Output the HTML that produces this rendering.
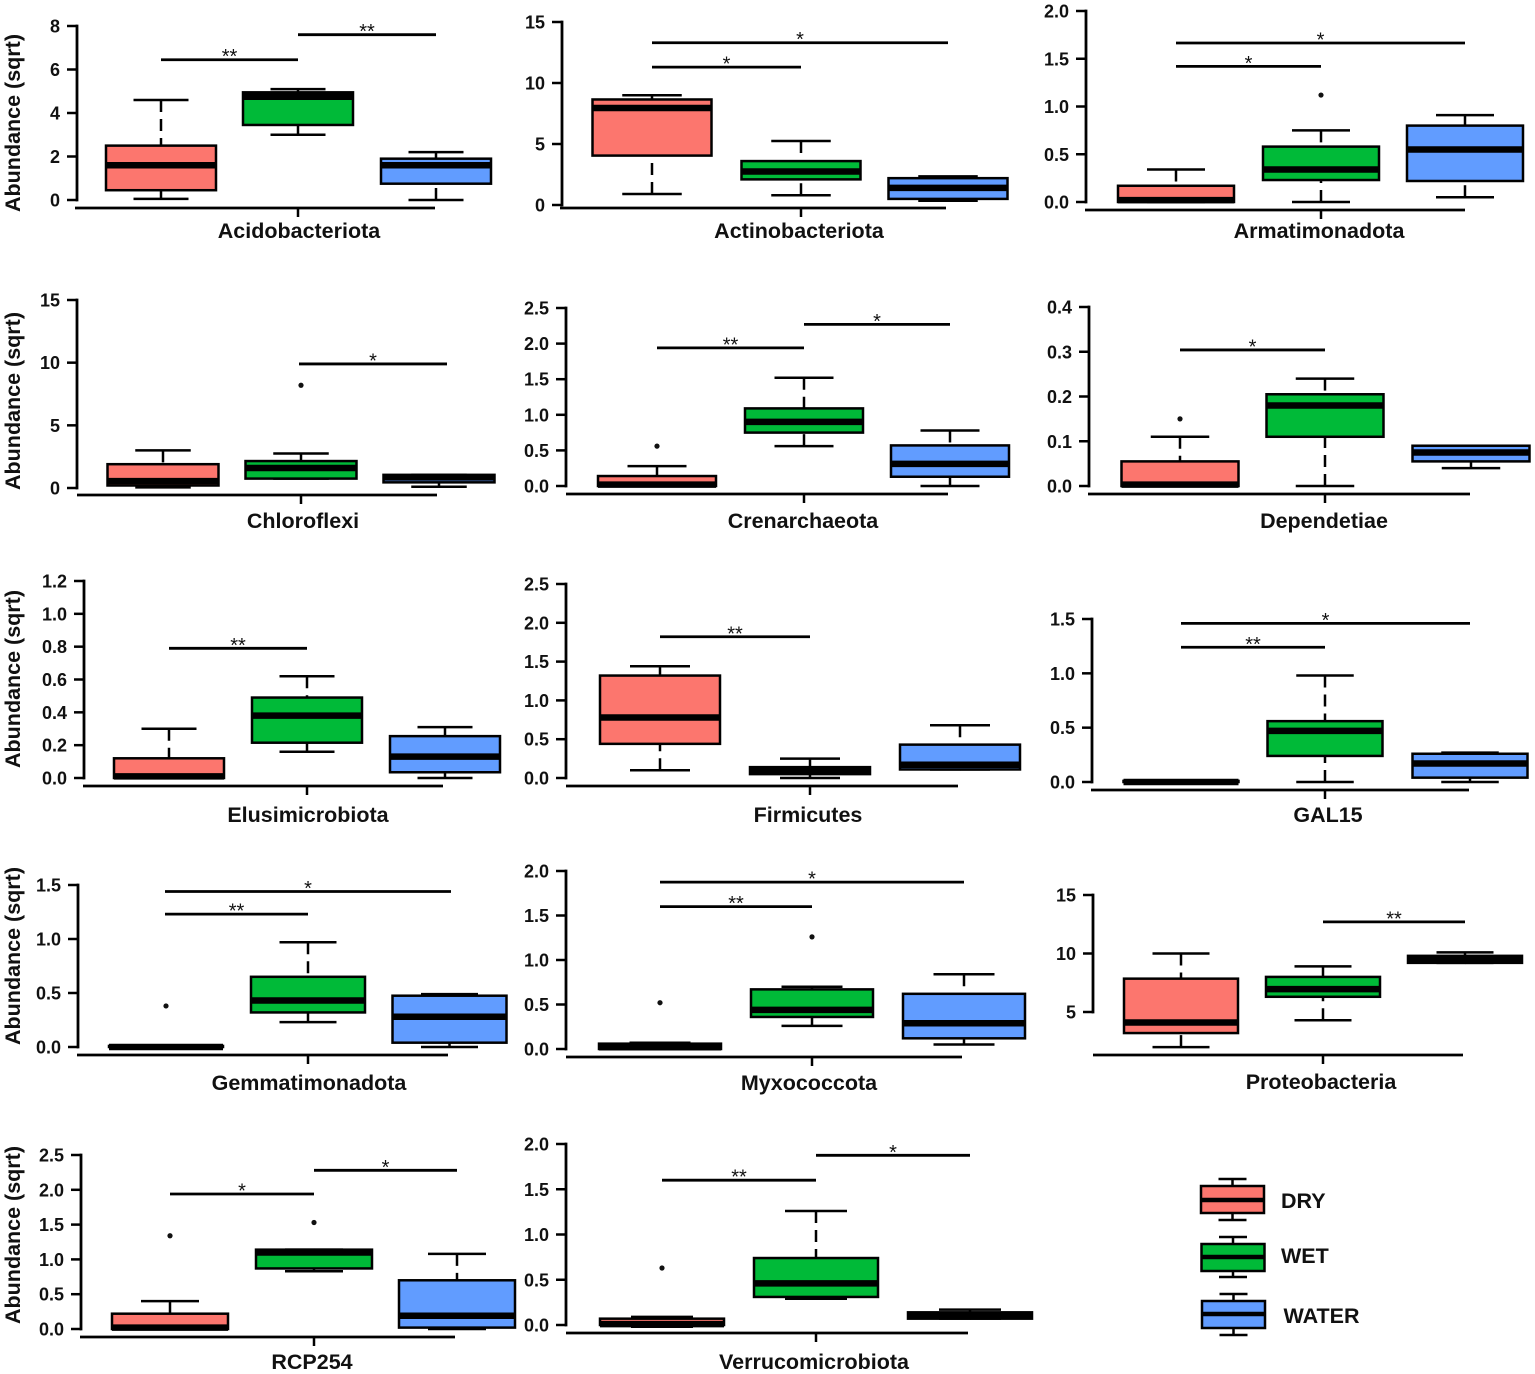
<!DOCTYPE html>
<html lang="en">
<head>
<meta charset="utf-8">
<title>Abundance boxplots by phylum</title>
<style>
html,body{margin:0;padding:0;background:#fff;}
svg{display:block;font-family:"Liberation Sans",sans-serif;}
</style>
</head>
<body>
<svg id="chart" xmlns="http://www.w3.org/2000/svg" width="1535" height="1374" viewBox="0 0 1535 1374"></svg>
<script>
// ---- data ----
const categories = ["Acidobacteriota","Actinobacteriota","Armatimonadota","Chloroflexi","Crenarchaeota","Dependetiae","Elusimicrobiota","Firmicutes","GAL15","Gemmatimonadota","Myxococcota","Proteobacteria","RCP254","Verrucomicrobiota"];
const groups = ["DRY","WET","WATER"];
const tickLabels = [
  ["0","2","4","6","8"],
  ["0","5","10","15"],
  ["0.0","0.5","1.0","1.5","2.0"],
  ["0","5","10","15"],
  ["0.0","0.5","1.0","1.5","2.0","2.5"],
  ["0.0","0.1","0.2","0.3","0.4"],
  ["0.0","0.2","0.4","0.6","0.8","1.0","1.2"],
  ["0.0","0.5","1.0","1.5","2.0","2.5"],
  ["0.0","0.5","1.0","1.5"],
  ["0.0","0.5","1.0","1.5"],
  ["0.0","0.5","1.0","1.5","2.0"],
  ["5","10","15"],
  ["0.0","0.5","1.0","1.5","2.0","2.5"],
  ["0.0","0.5","1.0","1.5","2.0"]
];
// each row: [whisker low, q1, median, q3, whisker high]
const dryStats = [
  [0.05,0.45,1.6,2.5,4.6],[0.9,4.05,7.95,8.65,9],[0,0,0.02,0.17,0.34],[0.05,0.2,0.55,1.9,3],
  [0,0,0.02,0.14,0.28],[0,0,0.003,0.055,0.11],[0,0,0.01,0.12,0.3],[0.1,0.44,0.78,1.32,1.44],
  [0,0,0,0.01,0.01],[0,0,0,0.01,0.01],[0,0,0.02,0.06,0.07],[2,3.2,4.1,7.85,10],
  [0,0,0.02,0.22,0.4],[-0.02,0,0.01,0.07,0.09]
];
const wetStats = [
  [3,3.45,4.75,4.95,5.1],[0.8,2.1,2.75,3.6,5.25],[0,0.23,0.34,0.58,0.75],[0.75,0.75,1.6,2.15,2.75],
  [0.56,0.75,0.9,1.09,1.52],[0,0.11,0.18,0.205,0.24],[0.16,0.215,0.38,0.49,0.62],[0,0.05,0.09,0.14,0.25],
  [0,0.24,0.47,0.56,0.98],[0.23,0.32,0.43,0.65,0.97],[0.26,0.36,0.44,0.67,0.7],[4.3,6.3,6.95,8,8.9],
  [0.83,0.87,1.1,1.14,1.14],[0.29,0.31,0.46,0.74,1.26]
];
const waterStats = [
  [0,0.75,1.6,1.9,2.2],[0.35,0.5,1.4,2.2,2.35],[0.05,0.22,0.55,0.8,0.91],[0.1,0.45,0.85,1.05,1.05],
  [0,0.13,0.31,0.57,0.78],[0.04,0.055,0.075,0.09,0.09],[0,0.035,0.13,0.255,0.31],[0.11,0.11,0.17,0.43,0.68],
  [0,0.04,0.17,0.26,0.27],[0,0.04,0.28,0.475,0.49],[0.05,0.12,0.29,0.62,0.84],[9.2,9.2,9.5,9.8,10.1],
  [0,0.02,0.19,0.7,1.08],[0.07,0.07,0.1,0.14,0.17]
];
const dryOutliers = [[],[],[],[],[0.56],[0.15],[],[],[],[0.38],[0.52],[],[1.34],[0.63]];
const wetOutliers = [[],[],[1.12],[8.2],[],[],[],[],[],[],[1.26],[],[1.53],[]];
const waterOutliers = [[],[],[],[],[],[],[],[],[],[],[],[],[],[]];
// each significance bar: [from group, to group, height in axis units, stars]
const significance = [
  [[0,1,6.45,"**"],[1,2,7.6,"**"]],
  [[0,1,11.3,"*"],[0,2,13.3,"*"]],
  [[0,1,1.42,"*"],[0,2,1.665,"*"]],
  [[1,2,9.9,"*"]],
  [[0,1,1.94,"**"],[1,2,2.27,"*"]],
  [[0,1,0.304,"*"]],
  [[0,1,0.79,"**"]],
  [[0,1,1.82,"**"]],
  [[0,1,1.24,"**"],[0,2,1.46,"*"]],
  [[0,1,1.23,"**"],[0,2,1.44,"*"]],
  [[0,1,1.6,"**"],[0,2,1.875,"*"]],
  [[1,2,12.7,"**"]],
  [[0,1,1.94,"*"],[1,2,2.28,"*"]],
  [[0,1,1.6,"**"],[1,2,1.875,"*"]]
];

// ---- panel frames (layout only) ----
const frames = [
  {ax:77,y0:200,y1:26,c:[161,298,436],bw:110,xl:[75,435],xy:208,lx:299,ly:238},
  {ax:562,y0:205,y1:22,c:[652,801,948],bw:119,xl:[560,946],xy:208,lx:799,ly:238},
  {ax:1086,y0:202,y1:11,c:[1176,1321,1465],bw:116,xl:[1085,1465],xy:210,lx:1319,ly:238},
  {ax:77,y0:488,y1:300,c:[163,301,439],bw:111,bc:[163,299,447],xl:[77,437],xy:495,lx:303,ly:528},
  {ax:566,y0:486,y1:308,c:[657,804,950],bw:118,xl:[566,948],xy:494,lx:803,ly:528},
  {ax:1089,y0:486,y1:307,c:[1180,1325,1471],bw:117,xl:[1088,1470],xy:494,lx:1324,ly:528},
  {ax:84,y0:778,y1:581,c:[169,307,445],bw:110,xl:[83,443],xy:786,lx:308,ly:822},
  {ax:566,y0:778,y1:584,c:[660,810,960],bw:120,xl:[566,958],xy:786,lx:808,ly:822},
  {ax:1092,y0:782,y1:619,c:[1181,1325,1470],bw:115,xl:[1091,1469],xy:790,lx:1328,ly:822},
  {ax:78,y0:1047,y1:885,c:[166,308,449.5],bw:114,bc:[165,308,451],xl:[77,448],xy:1055,lx:309,ly:1090},
  {ax:566,y0:1049,y1:871,c:[660,812,964],bw:122,xl:[566,962],xy:1057,lx:809,ly:1090},
  {ax:1093,y0:1012,y1:895,c:[1181,1323,1465],bw:114,xl:[1093,1463],xy:1055,lx:1321,ly:1089},
  {ax:81,y0:1329,y1:1155,c:[170,314,457],bw:116,xl:[80,455],xy:1337,lx:312,ly:1369},
  {ax:566,y0:1325,y1:1144,c:[662,816,970],bw:124,xl:[566,968],xy:1333,lx:814,ly:1369}
];
const ylabelPanels = {0:123,3:401,6:679,9:956,12:1235};
const fills = ["#FC766E","#00BA38","#619CFF"];
const statsByGroup = [dryStats,wetStats,waterStats];
const outliersByGroup = [dryOutliers,wetOutliers,waterOutliers];

const NS = "http://www.w3.org/2000/svg";
const root = document.getElementById("chart");
function mk(tag, parent, attrs, text){
  const n = document.createElementNS(NS, tag);
  for (const k in attrs) n.setAttribute(k, attrs[k]);
  if (text !== undefined) n.textContent = text;
  parent.appendChild(n);
  return n;
}
function line(parent,x1,y1,x2,y2,w,dash){
  const a = {x1:x1,y1:y1,x2:x2,y2:y2,stroke:"#000","stroke-width":w};
  if (dash) a["stroke-dasharray"] = dash;
  return mk("line",parent,a);
}
function slug(s){ return s.toLowerCase(); }
function makeYScale(labels, f){
  const lo = parseFloat(labels[0]);
  const hi = parseFloat(labels[labels.length-1]);
  return v => f.y0 + (v-lo)*(f.y1-f.y0)/(hi-lo);
}
function drawBox(parent, cx, bw, pts, fill, medianW, dash, capW, label){
  const x = cx-bw/2;
  const [lowY,q1Y,medY,q3Y,highY] = pts;
  const lowWhisker = line(parent,cx,lowY,cx,q1Y,2.5,dash);
  
  
  const highWhisker = line(parent,cx,highY,cx,q3Y,2.5,dash);
  
  
  const lowCap = line(parent,cx-capW/2,lowY,cx+capW/2,lowY,2.5);
  
  
  const highCap = line(parent,cx-capW/2,highY,cx+capW/2,highY,2.5);
  
  
  const box = mk("rect",parent,{x:x,y:q3Y,width:bw,height:Math.max(q1Y-q3Y,0.5),fill:fill,stroke:"#000","stroke-width":2.5});
  
  
  const med = line(parent,x,medY,x+bw,medY,medianW);
  
  
}

categories.forEach((name,i)=>{
  const f = frames[i];
  const y = makeYScale(tickLabels[i], f);
  const base = slug(name);
  const g = mk("g",root,{});
  
  

  // y axis
  const yAxis = line(g,f.ax,y(parseFloat(tickLabels[i][0])),f.ax,y(parseFloat(tickLabels[i][tickLabels[i].length-1])),2.8);
  
  
  yAxis.setAttribute('stroke-linecap', 'square');
  tickLabels[i].forEach(t=>{
    const ty = y(parseFloat(t));
    const tick = line(g,f.ax-10,ty,f.ax,ty,2.5);
    
    
    const lab = mk("text",g,{x:f.ax-17,y:ty+6.5,"text-anchor":"end","font-size":18,"font-weight":"bold",fill:"#111"},t);
    
    
  });

  // x axis
  const xAxis = line(g,f.xl[0],f.xy,f.xl[1],f.xy,2.8);
  
  
  const xTick = line(g,f.c[1],f.xy,f.c[1],f.xy+9,2.5);
  
  
  const xLabel = mk("text",g,{x:f.lx,y:f.ly,"text-anchor":"middle","font-size":21.5,"font-weight":"bold",fill:"#111"},name);
  
  

  // y title
  if (ylabelPanels[i] !== undefined){
    const cy = ylabelPanels[i];
    const yTitle = mk("text",g,{x:0,y:0,transform:"translate(20,"+cy+") rotate(-90)","text-anchor":"middle","font-size":21.5,"font-weight":"bold",fill:"#111"},"Abundance (sqrt)");
    
    
  }

  // boxes
  groups.forEach((grp,k)=>{
    const stats = statsByGroup[k][i];
    const pts = stats.map(y);
    drawBox(g,f.c[k],f.bw,pts,fills[k],6.5,"12 7",f.bw/2,base+'-'+slug(grp));
    outliersByGroup[k][i].forEach(v=>{
      const dot = mk("circle",g,{cx:f.c[k],cy:y(v),r:2.6,fill:"#111"});
      
      
    });
  });

  // significance bars
  const ends = f.bc || f.c;
  significance[i].forEach(s=>{
    const by = y(s[2]);
    const x1 = ends[s[0]], x2 = ends[s[1]];
    const bar = line(g,x1,by,x2,by,2.8);
    
    
    const star = mk("text",g,{x:(x1+x2)/2,y:by+3.5,"text-anchor":"middle","font-size":20,fill:"#111"},s[3]);
    
    
  });
});

// legend
const legendBoxes = [
  {label:"DRY",x:1201,cap:1179,top:1186,med:1200,bot:1213,low:1220,tx:1281,ty:1208},
  {label:"WET",x:1201.5,cap:1237,top:1244,med:1257,bot:1271,low:1277,tx:1281,ty:1263},
  {label:"WATER",x:1202,cap:1294,top:1301,med:1314,bot:1328,low:1335,tx:1283.5,ty:1323}
];
const legend = mk("g",root,{});


legendBoxes.forEach((e,k)=>{
  const entry = mk("g",legend,{});
  
  
  drawBox(entry,e.x+31.5,63,[e.low,e.bot,e.med,e.top,e.cap],fills[k],4.5,null,28,'legend-'+slug(e.label));
  const t = mk("text",entry,{x:e.tx,y:e.ty,"font-size":21.5,"font-weight":"bold",fill:"#111"},e.label);
  
  
});
</script>
</body>
</html>
